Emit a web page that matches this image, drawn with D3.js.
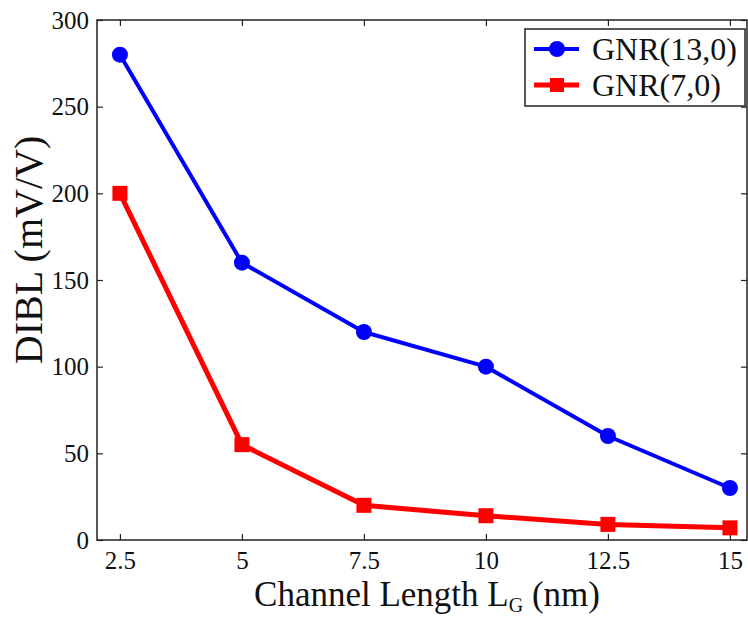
<!DOCTYPE html>
<html>
<head>
<meta charset="utf-8">
<script src="https://cdn.jsdelivr.net/npm/d3@7"></script>
<style>
  html, body { margin: 0; padding: 0; background: #fff; }
  svg { display: block; }
</style>
</head>
<body>
<svg id="chart" width="748" height="619"></svg>
<script>
// Channel length values (nm)
const channelLength = [2.5, 5, 7.5, 10, 12.5, 15];
// DIBL (mV/V) for each ribbon
const gnr13 = [280, 160, 120, 100, 60, 30];
const gnr7 = [200, 55, 20, 14, 9, 7];
const seriesNames = ["GNR(13,0)", "GNR(7,0)"];
const xTicks = [2.5, 5, 7.5, 10, 12.5, 15];
const yTicks = [0, 50, 100, 150, 200, 250, 300];

const SERIF = "'Liberation Serif', 'Times New Roman', 'DejaVu Serif', serif";

const svg = d3.select("#chart");
const plot = { left: 97, right: 747, top: 20, bottom: 540 };

const x = d3.scaleLinear().domain([2.03, 15.35]).range([plot.left, plot.right]);
const y = d3.scaleLinear().domain([0, 300]).range([plot.bottom, plot.top]);

const tickLen = 6;
const axisColor = "#222";

// frame
svg.append("rect")
  .attr("x", plot.left).attr("y", plot.top)
  .attr("width", plot.right - plot.left).attr("height", plot.bottom - plot.top)
  .attr("fill", "none").attr("stroke", axisColor).attr("stroke-width", 1.5);

// inward ticks on all four sides
const fmt = d => String(d);
const bottomAxis = svg.append("g").attr("transform", `translate(0,${plot.bottom})`)
  .call(d3.axisBottom(x).tickValues(xTicks).tickSizeInner(-tickLen).tickSizeOuter(0).tickPadding(11).tickFormat(fmt));
const topAxis = svg.append("g").attr("transform", `translate(0,${plot.top})`)
  .call(d3.axisTop(x).tickValues(xTicks).tickSizeInner(-tickLen).tickSizeOuter(0).tickFormat(""));
const leftAxis = svg.append("g").attr("transform", `translate(${plot.left},0)`)
  .call(d3.axisLeft(y).tickValues(yTicks).tickSizeInner(-tickLen).tickSizeOuter(0).tickPadding(8).tickFormat(fmt));
const rightAxis = svg.append("g").attr("transform", `translate(${plot.right},0)`)
  .call(d3.axisRight(y).tickValues(yTicks).tickSizeInner(-tickLen).tickSizeOuter(0).tickFormat(""));

[bottomAxis, topAxis, leftAxis, rightAxis].forEach(g => {
  g.attr("font-family", null).attr("font-size", null);
  g.select(".domain").remove();
  g.selectAll(".tick line").attr("stroke", axisColor).attr("stroke-width", 1.2);
  g.selectAll(".tick text")
    .style("font-family", SERIF).style("font-size", "25px").attr("fill", "#111");
});
bottomAxis.selectAll(".tick text").attr("dy", "0.71em");

// axis titles
const xTitle = svg.append("text")
  .attr("x", 427).attr("y", 606)
  .attr("text-anchor", "middle")
  .style("font-family", SERIF).style("font-size", "35px").attr("fill", "#111");
xTitle.append("tspan").text("Channel Length L");
xTitle.append("tspan").style("font-size", "20px").attr("dy", 6).text("G");
xTitle.append("tspan").attr("dy", -6).text(" (nm)");

svg.append("text")
  .attr("transform", `translate(42,250) rotate(-90)`)
  .attr("text-anchor", "middle")
  .style("font-family", SERIF).style("font-size", "40px").attr("fill", "#111")
  .text("DIBL (mV/V)");

// series
const series = [
  { name: seriesNames[0], values: gnr13, color: "#0000ff", width: 4, marker: "circle" },
  { name: seriesNames[1], values: gnr7, color: "#ff0000", width: 5, marker: "square" }
];

const line = d3.line().x((d, i) => x(channelLength[i])).y(d => y(d));

series.forEach(s => {
  svg.append("path").datum(s.values)
    .attr("d", line).attr("fill", "none")
    .attr("stroke", s.color).attr("stroke-width", s.width).attr("stroke-linejoin", "round");
  const g = svg.append("g");
  if (s.marker === "circle") {
    g.selectAll("circle").data(s.values).join("circle")
      .attr("cx", (d, i) => x(channelLength[i])).attr("cy", d => y(d))
      .attr("r", 8).attr("fill", s.color);
  } else {
    g.selectAll("rect").data(s.values).join("rect")
      .attr("x", (d, i) => x(channelLength[i]) - 7.5).attr("y", d => y(d) - 7.5)
      .attr("width", 15).attr("height", 15).attr("fill", s.color);
  }
});

// legend
const legend = svg.append("g");
legend.append("rect")
  .attr("x", 525).attr("y", 29).attr("width", 220).attr("height", 77)
  .attr("fill", "#fff").attr("stroke", axisColor).attr("stroke-width", 1.5);
series.forEach((s, i) => {
  const cy = 49 + i * 36;
  legend.append("line").attr("x1", 534).attr("x2", 579).attr("y1", cy).attr("y2", cy)
    .attr("stroke", s.color).attr("stroke-width", s.width);
  if (s.marker === "circle") {
    legend.append("circle").attr("cx", 557).attr("cy", cy).attr("r", 8).attr("fill", s.color);
  } else {
    legend.append("rect").attr("x", 550).attr("y", cy - 7).attr("width", 14).attr("height", 14).attr("fill", s.color);
  }
  legend.append("text").attr("x", 592).attr("y", cy + 11)
    .style("font-family", SERIF).style("font-size", "32px").attr("fill", "#111")
    .text(s.name);
});
</script>
</body>
</html>
